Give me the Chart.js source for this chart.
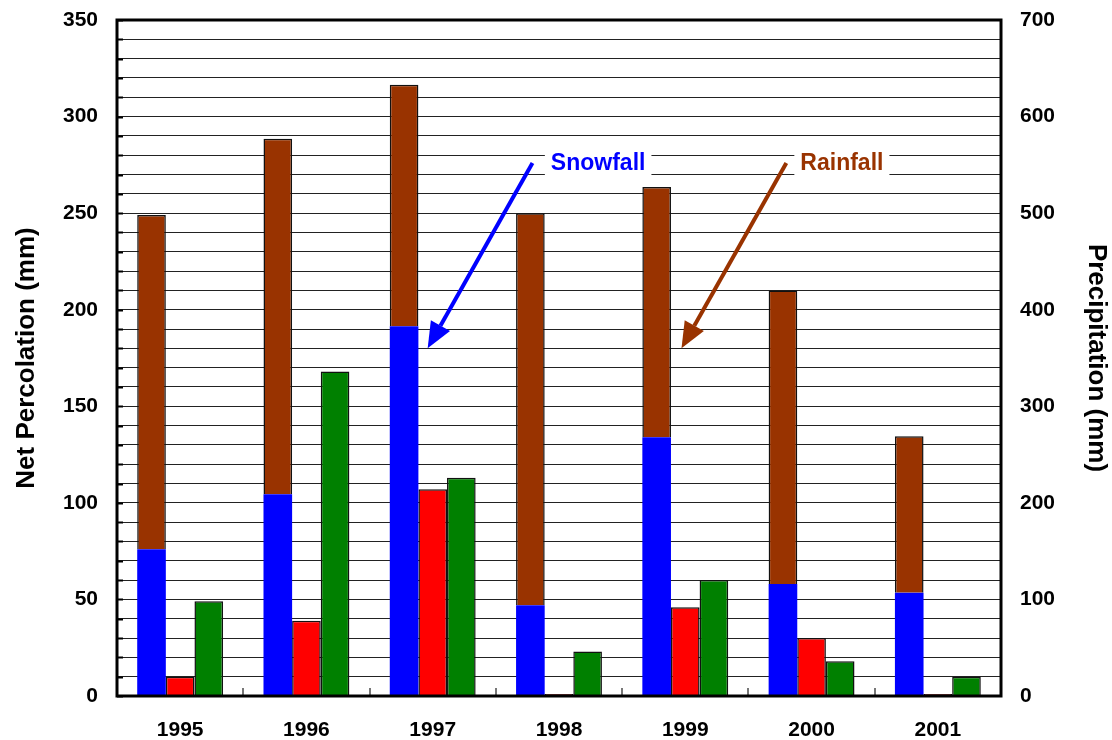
<!DOCTYPE html>
<html>
<head>
<meta charset="utf-8">
<script src="https://cdn.jsdelivr.net/npm/chart.js@4"></script>
<style>
  html, body { margin: 0; padding: 0; background: #fff; }
  #wrap { width: 1112px; height: 740px; }
</style>
</head>
<body>
<div id="wrap"><canvas id="chart" width="1112" height="740"></canvas></div>
<script>
const years = ['1995', '1996', '1997', '1998', '1999', '2000', '2001'];
const snowfall = [152, 209, 383, 94, 268, 116, 107];
const rainfall = [346, 368, 250, 406, 259, 304, 162];
const percolationRed = [10, 39, 107, 1, 46, 30, 1];
const percolationGreen = [49, 168, 113, 23, 60, 18, 10];

const FONT = 'Liberation Sans, Arial, sans-serif';

// callouts: x in category units, y in left-axis units
const callouts = [
    { text: 'Snowfall', color: '#0000FF', tx: 3.31, ty: 276, fx: 2.79, fy: 276, ex: 1.96, ey: 180 },
    { text: 'Rainfall', color: '#993300', tx: 5.24, ty: 276, fx: 4.80, fy: 276, ex: 3.97, ey: 180 }
];

const framePlugin = {
    id: 'frame',
    afterDatasetsDraw(chart) {
        const { ctx, chartArea: a, scales } = chart;
        ctx.save();
        // small upward ticks between categories
        ctx.strokeStyle = '#777';
        ctx.lineWidth = 2;
        for (let i = 1; i < years.length; i++) {
            const x = Math.round(scales.x.getPixelForValue(i - 0.5));
            ctx.beginPath();
            ctx.moveTo(x, a.bottom);
            ctx.lineTo(x, a.bottom - 8);
            ctx.stroke();
        }
        // short inward ticks on left axis
        ctx.strokeStyle = '#000';
        ctx.lineWidth = 2;
        scales.y.ticks.forEach(t => {
            const y = Math.round(scales.y.getPixelForValue(t.value)) + 0.5;
            ctx.beginPath();
            ctx.moveTo(a.left, y);
            ctx.lineTo(a.left + 6, y);
            ctx.stroke();
        });
        ctx.lineWidth = 3;
        ctx.strokeRect(a.left, a.top, a.right - a.left, a.bottom - a.top);

        // callouts
        callouts.forEach(c => {
            const x0 = scales.x.getPixelForValue(c.fx), y0 = scales.y.getPixelForValue(c.fy);
            const x1 = scales.x.getPixelForValue(c.ex), y1 = scales.y.getPixelForValue(c.ey);
            const ang = Math.atan2(y1 - y0, x1 - x0);
            const headLen = 26, headW = 11;
            const bx = x1 - headLen * Math.cos(ang), by = y1 - headLen * Math.sin(ang);
            ctx.strokeStyle = c.color;
            ctx.fillStyle = c.color;
            ctx.lineWidth = 4;
            ctx.beginPath();
            ctx.moveTo(x0, y0);
            ctx.lineTo(bx, by);
            ctx.stroke();
            ctx.beginPath();
            ctx.moveTo(x1, y1);
            ctx.lineTo(bx + headW * Math.sin(ang), by - headW * Math.cos(ang));
            ctx.lineTo(bx - headW * Math.sin(ang), by + headW * Math.cos(ang));
            ctx.closePath();
            ctx.fill();

            ctx.font = 'bold 23px ' + FONT;
            const tx = scales.x.getPixelForValue(c.tx), ty = scales.y.getPixelForValue(c.ty);
            const w = ctx.measureText(c.text).width;
            ctx.fillStyle = '#fff';
            ctx.fillRect(tx - w / 2 - 6, ty - 13, w + 12, 27);
            ctx.fillStyle = c.color;
            ctx.textAlign = 'center';
            ctx.textBaseline = 'middle';
            ctx.fillText(c.text, tx, ty + 1);
        });
        ctx.restore();
    }
};

// keep the plot area edges fixed regardless of label overhang
function fixVertical(width) {
    return s => { s.width = width; s.paddingTop = 10; s.paddingBottom = 10; };
}

new Chart(document.getElementById('chart'), {
    type: 'bar',
    data: {
        labels: years,
        datasets: [
            { label: 'Snowfall', data: snowfall, yAxisID: 'y1', stack: 'precip',
              backgroundColor: '#0000FF', borderWidth: 0 },
            { label: 'Rainfall', data: rainfall, yAxisID: 'y1', stack: 'precip',
              backgroundColor: '#993300', borderColor: '#111', borderWidth: 1.5 },
            { label: 'Net Percolation A', data: percolationRed, yAxisID: 'y', stack: 'red',
              backgroundColor: '#FF0000', borderColor: '#111', borderWidth: 1.5 },
            { label: 'Net Percolation B', data: percolationGreen, yAxisID: 'y', stack: 'green',
              backgroundColor: '#008000', borderColor: '#111', borderWidth: 1.5 }
        ]
    },
    options: {
        responsive: false,
        animation: false,
        layout: { padding: { top: 20, left: 0, right: 0, bottom: 0 } },
        datasets: { bar: { categoryPercentage: 0.68, barPercentage: 1.0 } },
        plugins: { legend: { display: false }, tooltip: { enabled: false } },
        scales: {
            x: {
                grid: { display: false },
                border: { display: false },
                ticks: { color: '#000', font: { family: FONT, size: 21, weight: 'bold' }, padding: 14, maxRotation: 0 },
                afterFit: s => { s.height = 44; }
            },
            y: {
                position: 'left',
                min: 0, max: 350,
                grid: { color: '#222', lineWidth: 1, drawTicks: false },
                border: { display: false },
                ticks: {
                    stepSize: 10, autoSkip: false, padding: 19, color: '#000',
                    font: { family: FONT, size: 21, weight: 'bold' },
                    callback: v => (v % 50 === 0 ? v : '')
                },
                title: { display: true, text: 'Net Percolation (mm)', color: '#000',
                         font: { family: FONT, size: 26, weight: 'bold' }, padding: { top: 11, bottom: 0 } },
                afterFit: fixVertical(117)
            },
            y1: {
                position: 'right',
                min: 0, max: 700,
                grid: { display: false, drawTicks: false },
                border: { display: false },
                ticks: {
                    stepSize: 100, autoSkip: false, padding: 19, color: '#000',
                    font: { family: FONT, size: 21, weight: 'bold' }
                },
                title: { display: true, text: 'Precipitation (mm)', color: '#000',
                         font: { family: FONT, size: 26, weight: 'bold' }, padding: { top: 0, bottom: 0 } },
                afterFit: fixVertical(111)
            }
        }
    },
    plugins: [framePlugin]
});
</script>
</body>
</html>
